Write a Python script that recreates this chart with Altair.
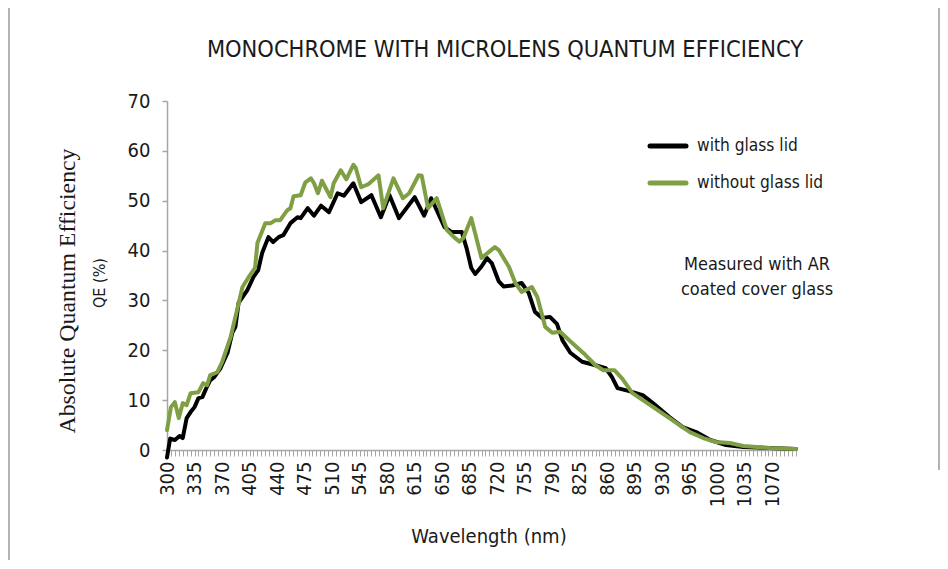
import altair as alt
import pandas as pd

# ---- data ----
wl_with = [300, 304, 310, 316, 320, 325, 330, 335, 340, 345, 350, 355, 360, 368, 377, 383, 387, 391,
           402, 410, 416, 421, 429, 435, 442, 448, 457, 466, 470, 479, 487, 496, 506, 517, 525, 537,
           547, 560, 572, 583, 595, 615, 627, 636, 653, 662, 675, 681, 687, 692, 700, 707, 713, 722,
           728, 739, 751, 760, 768, 777, 787, 796, 803, 813, 828, 845, 858, 866, 873, 888, 905, 918,
           939, 956, 973, 991, 1011, 1033, 1067, 1100]
qe_with = [-1.5, 2.3, 2.0, 2.8, 2.4, 6.4, 7.6, 8.6, 10.4, 10.6, 12.4, 14.0, 14.6, 16.4, 19.5, 23.5, 24.7, 29.5,
           32.0, 34.7, 36.1, 39.5, 42.7, 41.7, 42.7, 43.1, 45.5, 46.7, 46.5, 48.5, 47.0, 49.0, 47.7, 51.5, 51.0, 53.5,
           49.7, 51.1, 46.7, 51.1, 46.5, 50.7, 47.0, 50.5, 44.7, 43.7, 43.7, 40.5, 36.5, 35.3, 36.8, 38.5, 37.5, 33.8,
           32.8, 33.0, 33.5, 31.5, 27.7, 26.5, 26.7, 25.3, 22.0, 19.5, 17.7, 17.0, 16.4, 14.6, 12.4, 11.8, 11.0, 9.4,
           6.6, 4.6, 3.6, 2.0, 1.0, 0.6, 0.4, 0.2]

wl_without = [300, 305, 310, 315, 320, 325, 330, 340, 346, 351, 355, 364, 370, 381, 390, 396, 404, 412,
              415, 425, 432, 438, 444, 453, 457, 461, 470, 476, 483, 487, 492, 497, 508, 512, 521, 528,
              537, 540, 547, 556, 569, 575, 588, 600, 608, 620, 624, 632, 643, 656, 665, 672, 677, 687,
              700, 717, 722, 735, 743, 751, 764, 771, 781, 790, 800, 815, 832, 845, 855, 869, 879, 892,
              909, 939, 965, 982, 998, 1016, 1033, 1067, 1100]
qe_without = [4.0, 8.6, 9.6, 6.4, 9.4, 9.0, 11.4, 11.6, 13.4, 13.0, 15.0, 15.6, 17.6, 22.7, 28.7, 32.7, 34.7, 36.5,
              41.5, 45.5, 45.5, 46.1, 46.1, 48.1, 48.5, 50.9, 51.1, 53.7, 54.5, 53.5, 51.5, 54.0, 50.7, 53.5, 56.1, 54.3,
              57.2, 56.6, 52.7, 53.3, 55.1, 48.5, 54.5, 50.5, 51.5, 55.1, 55.0, 48.5, 50.5, 44.1, 42.7, 41.8, 42.5, 46.5,
              38.5, 40.7, 40.1, 36.7, 33.5, 31.7, 32.7, 30.7, 24.7, 23.5, 23.7, 21.5, 19.1, 17.0, 16.0, 16.0, 14.3, 11.4,
              9.6, 6.4, 3.6, 2.4, 1.6, 1.4, 0.8, 0.4, 0.2]

series_names = ["with glass lid", "without glass lid"]
series_colors = ["#000000", "#7f9f45"]
y_ticks = [0, 10, 20, 30, 40, 50, 60, 70]
x_ticks = list(range(300, 1101, 5))

title_text = "MONOCHROME WITH MICROLENS QUANTUM EFFICIENCY"
y_title_1 = "Absolute Quantum Efficiency"
y_title_2 = "QE (%)"
x_title = "Wavelength (nm)"
note_lines = ["Measured with AR", "coated cover glass"]

FONT = "Liberation Sans Narrow, DejaVu Sans Condensed, Roboto, sans-serif"
SERIF = "Liberation Serif, DejaVu Serif, serif"
TXT = "#1a1a1a"
GRID = "#a6a6a6"

W, H = 629, 349

df = pd.concat([
    pd.DataFrame({"wl": wl_with, "qe": qe_with, "series": series_names[0], "ord": 0}),
    pd.DataFrame({"wl": wl_without, "qe": qe_without, "series": series_names[1], "ord": 1}),
])

x_scale = alt.Scale(domain=[300, 1100], nice=False, zero=False)
y_scale = alt.Scale(domain=[0, 70], nice=False)

lines = alt.Chart(df).mark_line(strokeWidth=4, strokeJoin="round", strokeCap="round").encode(
    x=alt.X("wl:Q", scale=x_scale,
            axis=alt.Axis(values=x_ticks, labelExpr="((datum.value - 300) % 35 == 0 && datum.value <= 1070) ? datum.value : ''",
                          labelAngle=270, labelAlign="right", labelBaseline="middle", labelOverlap=False,
                          labelFontSize=20, labelFont=FONT, labelColor=TXT, labelPadding=5,
                          tickSize=6, tickColor=GRID, tickWidth=1, domainColor=GRID, domainWidth=1.5,
                          grid=False, title=None, labelFlush=False)),
    y=alt.Y("qe:Q", scale=y_scale,
            axis=alt.Axis(values=y_ticks, labelFontSize=20, labelFont=FONT, labelColor=TXT, labelPadding=12,
                          tickSize=5, tickColor=GRID, tickWidth=1.5, domainColor=GRID, domainWidth=1.5,
                          grid=False, title=None)),
    color=alt.Color("series:N", scale=alt.Scale(domain=series_names, range=series_colors), legend=None),
    order=alt.Order("ord:Q"),
    detail="series:N",
)

def text_layer(text, x, y, size, font=FONT, angle=0, align="center"):
    return alt.Chart(pd.DataFrame({"t": [text]})).mark_text(
        font=font, fontSize=size, color=TXT, angle=angle, align=align, baseline="middle"
    ).encode(text="t:N", x=alt.value(x), y=alt.value(y))

ox, oy = 167, 101  # page position of plot origin

layers = [lines]
layers.append(text_layer(title_text, 505 - ox, 50 - oy, 23.4))
layers.append(text_layer(y_title_1, 68 - ox, 291 - oy, 23.8, font=SERIF, angle=270))
layers.append(text_layer(y_title_2, 100 - ox, 283 - oy, 16, angle=270))
layers.append(text_layer(x_title, 489 - ox, 537 - oy, 20))
layers.append(text_layer(note_lines[0], 757 - ox, 265 - oy, 18))
layers.append(text_layer(note_lines[1], 757 - ox, 290 - oy, 18))

# legend
leg_y = [146, 183]
for name, col, ly in zip(series_names, series_colors, leg_y):
    layers.append(alt.Chart(pd.DataFrame({"s": [name]})).mark_rule(strokeWidth=5, color=col, strokeCap="round").encode(
        x=alt.value(650 - ox), x2=alt.value(686 - ox), y=alt.value(ly - oy)))
    layers.append(text_layer(name, 697 - ox, ly - oy, 17.2, align="left"))

# chart-area frame (left and right edges)
layers.append(alt.Chart(pd.DataFrame({"s": [0]})).mark_rule(strokeWidth=1.5, color="#9a9a9a").encode(
    x=alt.value(9 - ox), y=alt.value(0 - oy), y2=alt.value(569 - oy)))
layers.append(alt.Chart(pd.DataFrame({"s": [0]})).mark_rule(strokeWidth=1.5, color="#9a9a9a").encode(
    x=alt.value(939 - ox), y=alt.value(0 - oy), y2=alt.value(470 - oy)))

chart = alt.layer(*layers).properties(
    width=W, height=H,
    background="white",
    autosize=alt.AutoSizeParams(type="none"),
    padding={"left": ox - 8, "top": oy - 8, "right": 932 - (ox - 8) - W, "bottom": 552 - (oy - 8) - H},
).configure_view(stroke=None)

chart.save("out.html", embed_options={"renderer": "svg", "actions": False})
